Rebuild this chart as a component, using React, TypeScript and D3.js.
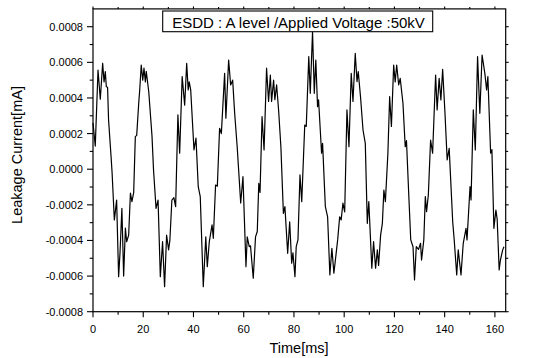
import React from "react";
import * as d3 from "d3";

const timeMs: number[] = [
  0, 0.9, 2.0, 2.9, 3.85, 4.4, 4.9, 5.3, 5.8, 6.2, 7.2, 7.6, 8.5, 9.4, 10.2, 10.75, 11.5, 12.2, 12.9, 13.4,
  14.2, 14.9, 15.5, 16.2, 16.85, 17.4, 18.2, 18.6, 19.2, 19.8, 20.3, 20.85, 21.2, 22.2, 23.5, 24.1, 25.1, 25.9,
  26.8, 27.7, 28.5, 29.3, 30.1, 30.6, 31.4, 32.2, 32.9, 33.8, 34.5, 35.5, 36.5, 37.3, 37.9, 38.3, 38.9, 40.2,
  41.0, 41.9, 42.7, 43.9, 44.9, 45.5, 46.3, 47.4, 47.9, 48.8, 49.5, 50.4, 51.1, 52.4, 52.9, 54.0, 54.8, 55.6,
  56.4, 57.4, 58.8, 59.7, 60.9, 61.4, 62.2, 62.7, 63.8, 64.7, 65.4, 66.0, 66.5, 67.3, 68.1, 69.1, 69.9, 70.6,
  71.1, 71.9, 72.4, 73.1, 73.9, 74.8, 75.8, 76.4, 77.5, 78.3, 79.1, 79.6, 80.4, 80.9, 81.6, 82.4, 83.1, 84.3,
  84.9, 85.9, 86.5, 87.4, 88.1, 88.7, 89.4, 89.8, 91.0, 91.4, 92.5, 93.4, 94.3, 95.1, 95.9, 96.5, 97.4, 98.2,
  98.8, 99.5, 100.2, 101.1, 101.9, 102.8, 103.5, 104.4, 105.1, 105.6, 106.5, 107.5, 108.4, 109.2, 109.8, 111.0,
  111.7, 112.5, 113.2, 113.7, 114.5, 115.2, 115.8, 116.4, 117.4, 118.1, 118.8, 119.7, 120.3, 120.9, 121.7, 122.3,
  123.4, 124.3, 124.8, 125.8, 126.5, 127.4, 128.0, 128.7, 129.6, 130.4, 130.8, 131.7, 132.3, 132.8, 133.5, 134.4,
  135.2, 136.4, 137.0, 137.8, 138.5, 139.2, 140.1, 141.0, 141.8, 143.2, 143.8, 144.8, 145.4, 146.5, 147.4, 148.5,
  148.9, 150.1, 150.5, 151.4, 152.2, 153.1, 154.0, 154.9, 156.0, 156.7, 157.2, 158.3, 158.8, 159.6, 160.4, 160.9,
  161.7, 162.2, 163.1, 163.6,
];

const leakageCurrent: number[] = [
  2.6e-4, 1.3e-4, 5.57e-4, 3.93e-4, 5.95e-4, 4.9e-4, 5.48e-4, 4.63e-4, 4.6e-4, 2.76e-4, 0.7e-4, -0.2e-4, -2.85e-4, -1.73e-4, -6.03e-4, -4.7e-4, -2.2e-4, -6.0e-4, -3.3e-4, -4.07e-4,
  -3.7e-4, -1.34e-4, -1.82e-4, -1.3e-4, 1.83e-4, 1.9e-4, 3.7e-4, 4.45e-4, 5.85e-4, 5.0e-4, 5.67e-4, 4.9e-4, 5.5e-4, 4.35e-4, 1.83e-4, -0.04e-4, -2.2e-4, -1.73e-4,
  -6.03e-4, -4.07e-4, -6.6e-4, -3.7e-4, -4.53e-4, -4.0e-4, -1.73e-4, -1.6e-4, -2.1e-4, 3.05e-4, 0.9e-4, 5.2e-4, 3.6e-4, 5.95e-4, 4.45e-4, 4.9e-4, 4.45e-4, 1.08e-4,
  1.74e-4, -0.98e-4, -1.54e-4, -6.6e-4, -3.8e-4, -5.47e-4, -4.07e-4, -3.13e-4, -3.88e-4, -0.89e-4, -0.95e-4, 2.3e-4, 2.0e-4, 5.38e-4, 2.86e-4, 6.13e-4, 4.73e-4, 5.0e-4,
  3.14e-4, 1.26e-4, -1.9e-4, -0.42e-4, -5.47e-4, -3.8e-4, -4.35e-4, -4.3e-4, -6.12e-4, -3.8e-4, -3.5e-4, -0.79e-4, -1.3e-4, 2.95e-4, 1.08e-4, 5.67e-4, 3.8e-4, 5.29e-4,
  3.8e-4, 5.0e-4, 3.9e-4, 4.73e-4, 3.3e-4, 1.26e-4, -2.48e-4, -2.1e-4, -4.72e-4, -2.95e-4, -5.28e-4, -4.7e-4, -6.03e-4, -4.35e-4, -3.97e-4, -0.32e-4, -1.82e-4, 2.48e-4,
  2.4e-4, 6.32e-4, 4.26e-4, 7.72e-4, 4.26e-4, 6.13e-4, 3.51e-4, 3.9e-4, 0.9e-4, 1.45e-4, -2.1e-4, -2.67e-4, -5.94e-4, -4.44e-4, -5.84e-4, -5.1e-4, -3.97e-4, -2.67e-4,
  -2.85e-4, -1.9e-4, -2.4e-4, 3.33e-4, 1.26e-4, 5.38e-4, 3.8e-4, 6.5e-4, 4.92e-4, 5.48e-4, 4.07e-4, 2.2e-4, 1.45e-4, -3.04e-4, -1.82e-4, -5.56e-4,
  -4.07e-4, -5.56e-4, -4.53e-4, -5.4e-4, -3.7e-4, -3.04e-4, -1.17e-4, -1.82e-4, 0.9e-4, 4.07e-4, 2.4e-4, 5.85e-4, 4.9e-4, 5.85e-4, 4.73e-4, 5.1e-4,
  3.7e-4, 1.26e-4, 1.6e-4, -1.73e-4, -3.97e-4, -4.35e-4, -6.22e-4, -4.35e-4, -4.5e-4, -4.16e-4, -5.1e-4, -3.97e-4, -1.54e-4, -2.38e-4, -1.45e-4, 1.64e-4,
  0.9e-4, 5.29e-4, 3.33e-4, 5.1e-4, 3.89e-4, 5.61e-4, 3.23e-4, 0.52e-4, 1.17e-4, -2.95e-4, -3.97e-4, -5.94e-4, -4.53e-4, -5.94e-4, -4.16e-4, -3.32e-4,
  -3.97e-4, -0.98e-4, -1.73e-4, 3.33e-4, 1.08e-4, 6.32e-4, 3.14e-4, 6.41e-4, 5.38e-4, 4.45e-4, 5.2e-4, 0.9e-4, 1.1e-4, -3.32e-4, -2.29e-4, -2.8e-4,
  -5.66e-4, -5.1e-4, -4.53e-4, -4.35e-4,
];

const xMajorTicks: number[] = [0, 20, 40, 60, 80, 100, 120, 140, 160];
const xMinorTicks: number[] = [10, 30, 50, 70, 90, 110, 130, 150];
const yMajorTicks: number[] = [-0.0008, -0.0006, -0.0004, -0.0002, 0, 0.0002, 0.0004, 0.0006, 0.0008];
const yTickLabels: string[] = ["-0.0008", "-0.0006", "-0.0004", "-0.0002", "0.0000", "0.0002", "0.0004", "0.0006", "0.0008"];
const yMinorTicks: number[] = [-0.0007, -0.0005, -0.0003, -0.0001, 0.0001, 0.0003, 0.0005, 0.0007];

const titleText = "ESDD : A level /Applied Voltage :50kV";
const xTitle = "Time[ms]";
const yTitle = "Leakage Current[mA]";

const W = 536;
const H = 358;
const left = 93;
const right = 505.7;
const top = 8.9;
const bottom = 311.7;
const font = "'Liberation Sans', Arial, Helvetica, sans-serif";

export default function App() {
  const x = d3.scaleLinear().domain([0, 164.3]).range([left, right]);
  const y = d3.scaleLinear().domain([-0.0008, 0.0009]).range([bottom, top]);
  const pts: [number, number][] = timeMs.map((t, i) => [t, leakageCurrent[i]]);
  const line = d3
    .line<[number, number]>()
    .x((d) => x(d[0]))
    .y((d) => y(d[1]));

  const allX = [...xMajorTicks.map((v) => ({ v, major: true })), ...xMinorTicks.map((v) => ({ v, major: false }))];
  const allY = [...yMajorTicks.map((v) => ({ v, major: true })), ...yMinorTicks.map((v) => ({ v, major: false }))];

  return (
    <svg
      width={W}
      height={H}
      viewBox={`0 0 ${W} ${H}`}
      style={{ position: "absolute", left: 0, top: 0, background: "#fff" }}
    >
      <rect x={0} y={0} width={W} height={H} fill="#fff" />
      <path d={line(pts) || ""} fill="none" stroke="#000" strokeWidth={1.2} strokeLinejoin="round" />
      {/* frame */}
      <rect x={left} y={top} width={right - left} height={bottom - top} fill="none" stroke="#000" strokeWidth={1.2} />
      {/* bottom & top ticks */}
      {allX.map((d, i) => (
        <g key={"xt" + i}>
          <line x1={x(d.v)} x2={x(d.v)} y1={bottom} y2={bottom + (d.major ? 5.5 : 3)} stroke="#000" strokeWidth={1.1} />
          <line x1={x(d.v)} x2={x(d.v)} y1={top} y2={top - (d.major ? 2.5 : 2)} stroke="#000" strokeWidth={1.1} />
        </g>
      ))}
      {/* left & right ticks */}
      {allY.map((d, i) => (
        <g key={"yt" + i}>
          <line x1={left} x2={left - (d.major ? 6 : 3.3)} y1={y(d.v)} y2={y(d.v)} stroke="#000" strokeWidth={1.1} />
          <line x1={right} x2={right + (d.major ? 3 : 2.5)} y1={y(d.v)} y2={y(d.v)} stroke="#000" strokeWidth={1.1} />
        </g>
      ))}
      {xMajorTicks.map((v, i) => (
        <text key={"xl" + i} x={x(v)} y={332.7} textAnchor="middle" fontFamily={font} fontSize={11} fill="#000">
          {String(v)}
        </text>
      ))}
      {yMajorTicks.map((v, i) => (
        <text key={"yl" + i} x={83} y={y(v) + 4} textAnchor="end" fontFamily={font} fontSize={11} fill="#000">
          {yTickLabels[i]}
        </text>
      ))}
      <text x={299} y={352.5} textAnchor="middle" fontFamily={font} fontSize={14.5} fill="#000">
        {xTitle}
      </text>
      <text
        transform={`translate(21.5,155) rotate(-90)`}
        textAnchor="middle"
        fontFamily={font}
        fontSize={14.5}
        fill="#000"
      >
        {yTitle}
      </text>
      <rect x={162.7} y={11} width={270} height={20.7} fill="#fff" stroke="#000" strokeWidth={1.1} />
      <text x={298.5} y={27.8} textAnchor="middle" fontFamily={font} fontSize={15} fill="#000">
        {titleText}
      </text>
    </svg>
  );
}
